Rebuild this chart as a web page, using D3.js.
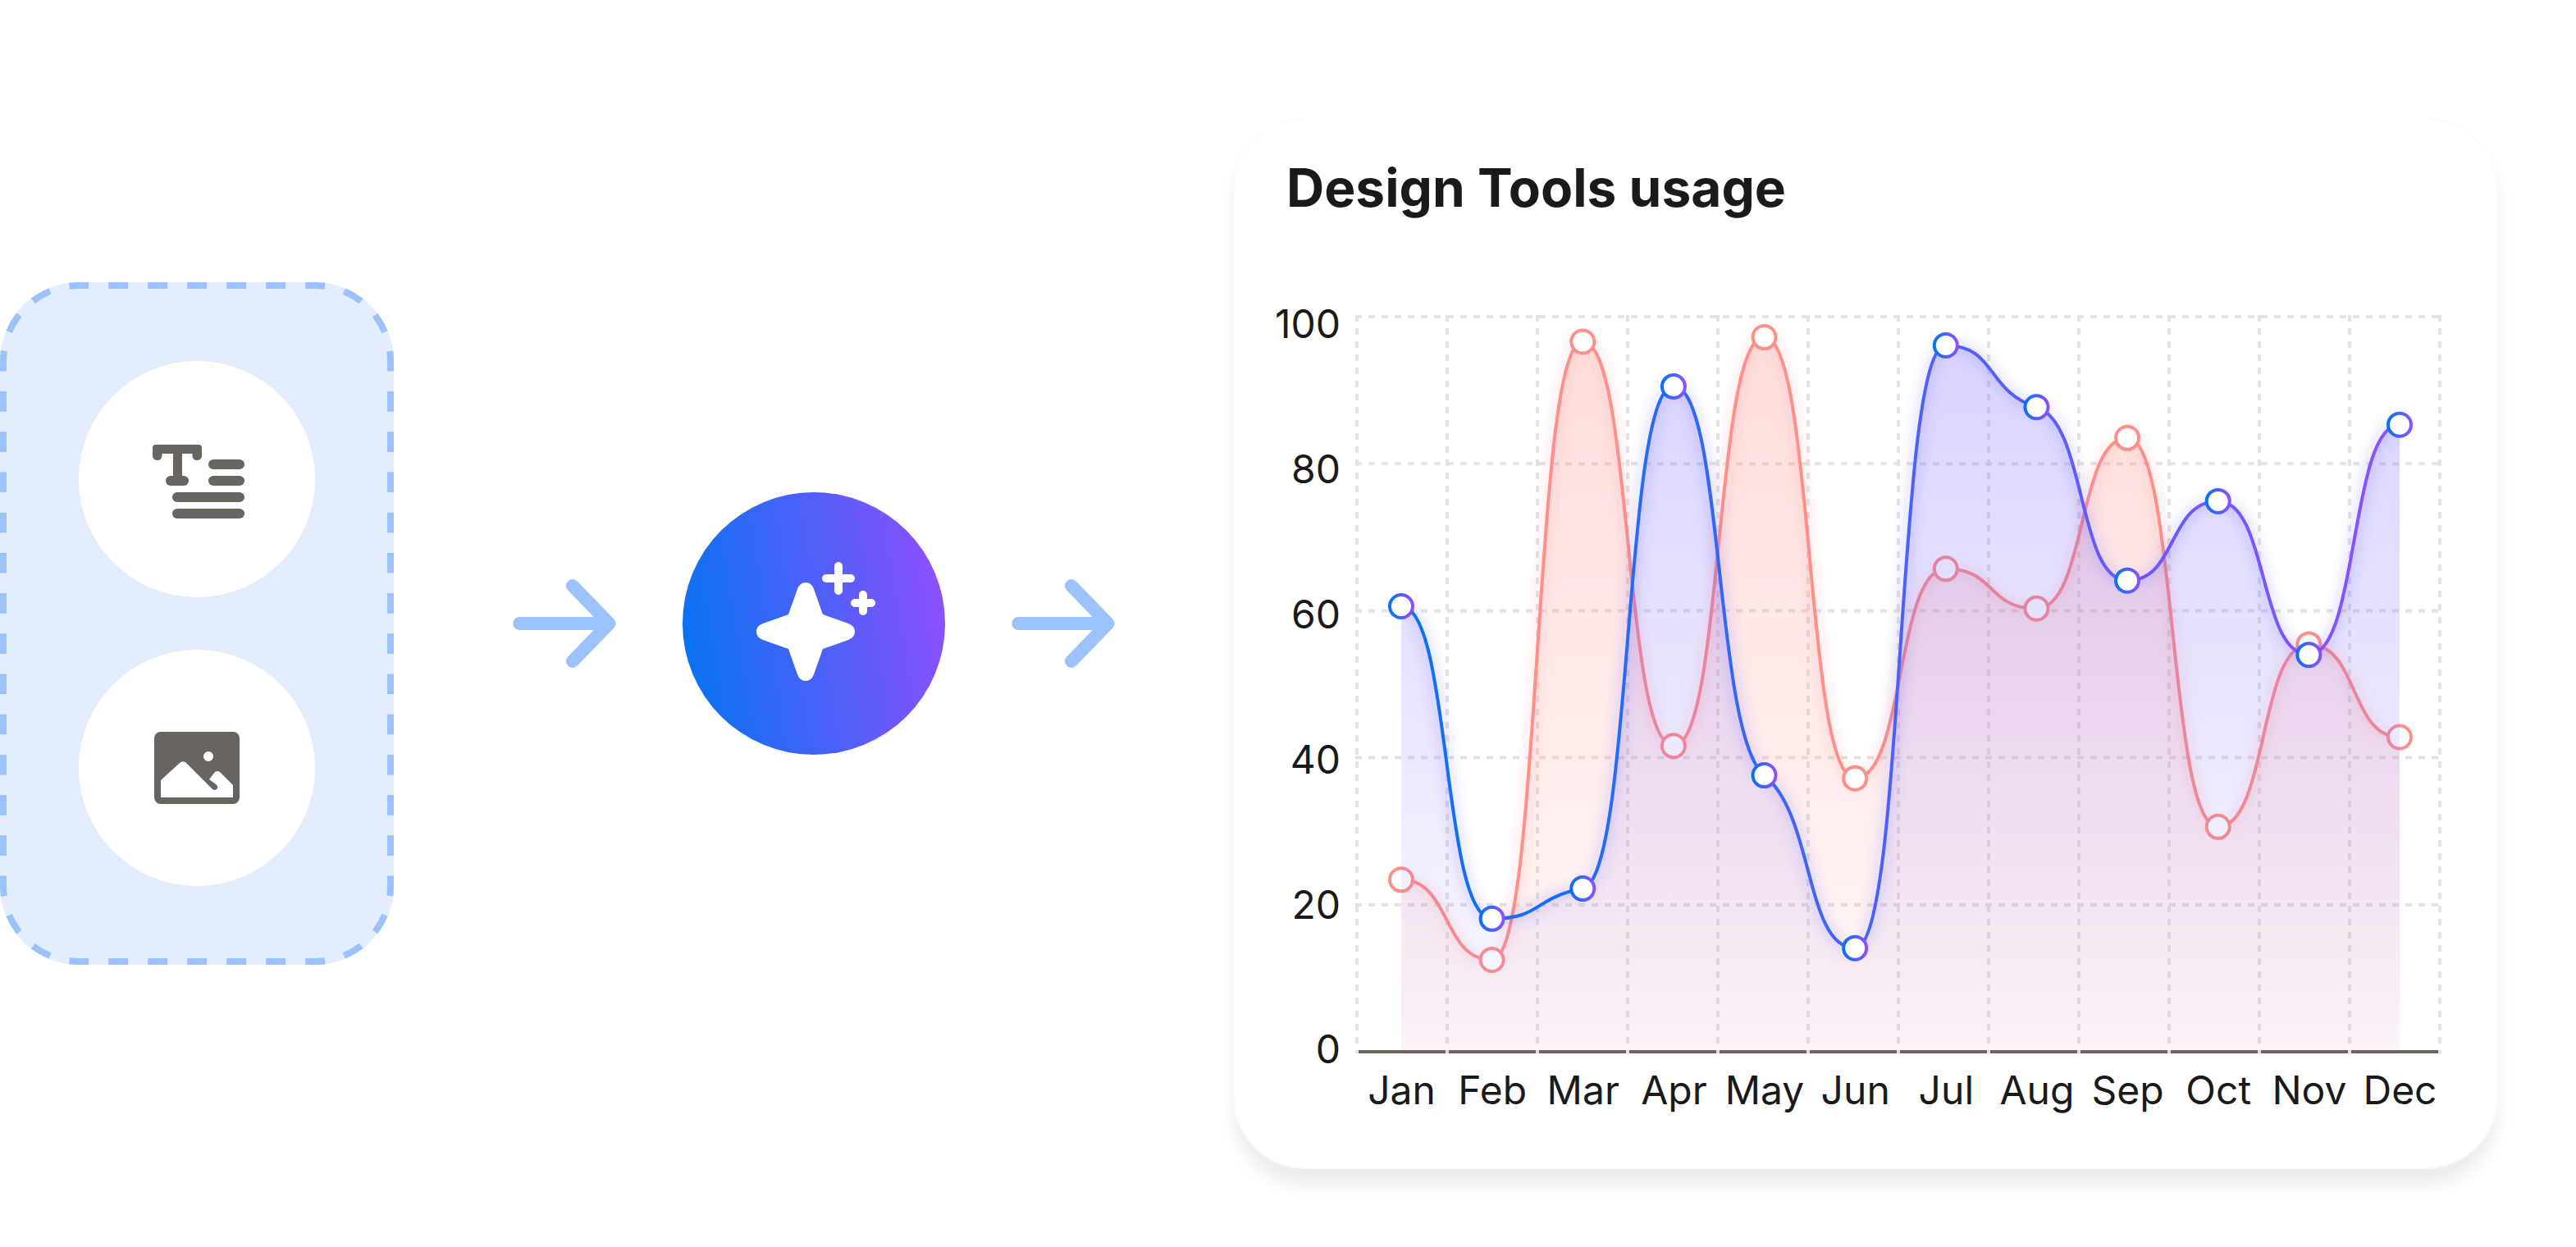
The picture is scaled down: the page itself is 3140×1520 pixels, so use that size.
<!DOCTYPE html>
<html>
<head>
<meta charset="utf-8">
<script src="https://cdn.jsdelivr.net/npm/d3@7"></script>
<style>
  html, body { margin: 0; padding: 0; background: #fff; }
  svg { display: block; }
  text { font-family: Inter, sans-serif; }
</style>
</head>
<body>
<svg id="chart" width="3140" height="1520"></svg>
<script>
// Values
const months = ["Jan", "Feb", "Mar", "Apr", "May", "Jun", "Jul", "Aug", "Sep", "Oct", "Nov", "Dec"]
const yTicks = [0, 20, 40, 60, 80, 100]
const redValues = [23.4, 12.5, 96.6, 41.6, 97.2, 37.2, 65.7, 60.3, 83.5, 30.6, 55.4, 42.8]
const blueValues = [60.6, 18.1, 22.2, 90.5, 37.6, 14.1, 96.1, 87.7, 64.1, 74.9, 54.0, 85.3]
const titleText = "Design Tools usage"

const svg = d3.select("#chart")
const defs = svg.append("defs")

function linearGrad(id, x1, y1, x2, y2, stops) {
  const g = defs.append("linearGradient").attr("id", id)
    .attr("x1", x1).attr("y1", y1).attr("x2", x2).attr("y2", y2)
  stops.forEach(s => g.append("stop").attr("offset", s[0]).attr("stop-color", s[1]).attr("stop-opacity", s[2] === undefined ? 1 : s[2]))
}
linearGrad("circleGrad", 0, 0.58, 1, 0.42, [[0, "#0872f2"], [1, "#8c50ff"]])
linearGrad("lineGrad", 0, 0, 1, 0, [[0, "#0872f2"], [1, "#8c50ff"]])
linearGrad("blueArea", 0, 0, 0, 1, [[0, "#6f5aff", 0.27], [1, "#6f5aff", 0.03]])
linearGrad("redArea", 0, 0, 0, 1, [[0, "#ff8f8a", 0.3], [1, "#ff8f8a", 0.06]])

const cardShadow = defs.append("filter").attr("id", "cardShadow")
  .attr("x", "-10%").attr("y", "-10%").attr("width", "120%").attr("height", "125%")
cardShadow.append("feDropShadow").attr("dx", 0).attr("dy", 20).attr("stdDeviation", 10)
  .attr("flood-color", "#000").attr("flood-opacity", 0.07)
defs.append("filter").attr("id", "glow")
  .attr("filterUnits", "userSpaceOnUse").attr("x", 1600).attr("y", 300).attr("width", 1500).attr("height", 1100)
  .append("feGaussianBlur").attr("stdDeviation", 8)

// Left panel
const iconColor = "#686460"
const lightBlue = "#9cc2fb"
svg.append("rect").attr("x", 0).attr("y", 344).attr("width", 480).attr("height", 832).attr("rx", 96).attr("fill", "#e3edfd")
// dashes run a bit longer on the upright sides, so the outline is split in pieces
const outline = [
  ["M4 440 A92 92 0 0 1 96 348 H384 A92 92 0 0 1 476 440", "24 24", 11.5],
  ["M4 1080 A92 92 0 0 0 96 1172 H384 A92 92 0 0 0 476 1080", "24 24", 11.5],
  ["M4 440 V1080", "24.6 24.6", 12.1],
  ["M476 440 V1080", "24.6 24.6", 12.1]
]
svg.append("g").selectAll("path").data(outline).join("path")
  .attr("d", d => d[0]).attr("fill", "none").attr("stroke", lightBlue).attr("stroke-width", 8)
  .attr("stroke-dasharray", d => d[1]).attr("stroke-dashoffset", d => d[2])
svg.selectAll(".bubble").data([584, 936]).join("circle").attr("class", "bubble")
  .attr("cx", 240).attr("cy", d => d).attr("r", 144).attr("fill", "#fff")

// text icon
const textIcon = svg.append("g").attr("fill", iconColor)
const iconRects = [
  [186, 542, 60, 11, 4], [186, 542, 11.5, 19, 5.5], [234.5, 542, 11.5, 19, 5.5],
  [211, 550, 11, 35, 0], [202, 580, 28, 12, 6],
  [254, 560, 44, 12, 6], [254, 580, 44, 12, 6], [210, 600, 88, 12, 6], [210, 620, 88, 12, 6]
]
textIcon.selectAll("rect").data(iconRects).join("rect")
  .attr("x", d => d[0]).attr("y", d => d[1]).attr("width", d => d[2]).attr("height", d => d[3]).attr("rx", d => d[4])

// image icon
svg.append("rect").attr("x", 188).attr("y", 892).attr("width", 104).attr("height", 88).attr("rx", 8).attr("fill", iconColor)
svg.append("circle").attr("cx", 254).attr("cy", 922).attr("r", 6).attr("fill", "#fff")
svg.append("path").attr("fill", "#fff")
  .attr("d", "M196 972 V951 L219 930 Q222 927 226 929 L258 961 Q262 965 265 961 Q266 958 263 956 L255 950 L262 941 Q265 939 268 941 L284 957 V972 Z")

// arrows
function arrow(dx) {
  svg.append("path").attr("transform", `translate(${dx},0)`)
    .attr("d", "M633.5 760 H742 M698 714 L742.5 760 L698 806")
    .attr("fill", "none").attr("stroke", lightBlue).attr("stroke-width", 16)
    .attr("stroke-linecap", "round").attr("stroke-linejoin", "round")
}
arrow(0)
arrow(608)

// Gradient circle with sparkles
svg.append("circle").attr("cx", 992).attr("cy", 760).attr("r", 160).attr("fill", "url(#circleGrad)")
svg.append("path").attr("fill", "#fff").attr("transform", "translate(982,770)")
  .attr("d", "M-21 -21 L-10 -52 Q-7 -60 0 -60 Q7 -60 10 -52 L21 -21 L52 -10 Q60 -7 60 0 Q60 7 52 10 L21 21 L10 52 Q7 60 0 60 Q-7 60 -10 52 L-21 21 L-52 10 Q-60 7 -60 0 Q-60 -7 -52 -10 Z")
svg.append("path").attr("fill", "none").attr("stroke", "#fff").attr("stroke-width", 10).attr("stroke-linecap", "round")
  .attr("d", "M1007 705 H1037 M1022 690 V720 M1042 735 H1062 M1052 725 V745")

// Card
svg.append("rect").attr("x", 1504).attr("y", 144).attr("width", 1540).attr("height", 1280).attr("rx", 88)
  .attr("fill", "#fff").attr("stroke", "#fafafa").attr("stroke-width", 1.5).attr("filter", "url(#cardShadow)")
svg.append("text").attr("x", 1568).attr("y", 252).attr("font-size", 64).attr("font-weight", 700).attr("fill", "#1a1a1a").text(titleText)

// Scales
const x = d3.scalePoint().domain(months).range([1708, 2925])
const y = d3.scaleLinear().domain([0, 100]).range([1282, 386])
const gridX = d3.scaleLinear().domain([0, 12]).range([1654, 2974])
// the tick labels are spaced slightly tighter than the grid
const yLabel = d3.scaleLinear().domain([0, 100]).range([1278.5, 394.6])

// Grid
const gridStyle = s => s.attr("stroke", "#e5e3e3").attr("stroke-width", 4).attr("stroke-dasharray", "8 8")
svg.append("g").selectAll("line").data(yTicks.slice(1)).join("line")
  .attr("x1", 1652).attr("x2", 2976).attr("y1", d => y(d)).attr("y2", d => y(d)).call(gridStyle)
svg.append("g").selectAll("line").data(d3.range(13)).join("line")
  .attr("x1", d => gridX(d)).attr("x2", d => gridX(d)).attr("y1", 384).attr("y2", 1284).call(gridStyle)

// Baseline broken at each grid column
svg.append("g").selectAll("line").data(d3.range(12)).join("line")
  .attr("x1", d => gridX(d) + 2).attr("x2", d => gridX(d + 1) - 2)
  .attr("y1", y(0)).attr("y2", y(0))
  .attr("stroke", iconColor).attr("stroke-width", 4)

// Axis labels
const xAxis = svg.append("g").attr("transform", `translate(0,${y(0)})`)
  .call(d3.axisBottom(x).tickSize(0).tickPadding(30))
const yAxis = svg.append("g").attr("transform", "translate(1654,0)")
  .call(d3.axisLeft(yLabel).tickValues(yTicks).tickSize(0).tickPadding(20))
;[xAxis, yAxis].forEach(a => {
  a.select(".domain").remove()
  a.selectAll("text").attr("font-family", "Inter, sans-serif").attr("font-size", 48).attr("fill", "#1a1a1a")
})
yAxis.selectAll("text").attr("dy", "0.36em")

// Spline with long handles and almost flat tangents, flat at both ends
function softCurve(context) {
  const handle = 0.55, flatten = 0.3
  let xs, ys, inArea = false, second = false
  return {
    areaStart() { inArea = true; second = false },
    areaEnd() { context.closePath(); inArea = false },
    lineStart() { xs = []; ys = [] },
    point(px, py) { xs.push(px); ys.push(py) },
    lineEnd() {
      const n = xs.length
      const slopes = xs.map((_, i) => {
        if (i === 0 || i === n - 1) return 0
        const s0 = (ys[i] - ys[i - 1]) / (xs[i] - xs[i - 1])
        const s1 = (ys[i + 1] - ys[i]) / (xs[i + 1] - xs[i])
        return s0 * s1 <= 0 ? 0 : flatten * 2 * s0 * s1 / (s0 + s1)
      })
      if (second) context.lineTo(xs[0], ys[0])
      else context.moveTo(xs[0], ys[0])
      for (let i = 1; i < n; i++) {
        const h = (xs[i] - xs[i - 1]) * handle
        context.bezierCurveTo(xs[i - 1] + h, ys[i - 1] + slopes[i - 1] * h, xs[i] - h, ys[i] - slopes[i] * h, xs[i], ys[i])
      }
      if (inArea) second = true
    }
  }
}

// Series: red goes first, blue sits on top of it
const line = d3.line().x((d, i) => x(months[i])).y(d => y(d)).curve(softCurve)
const area = d3.area().x((d, i) => x(months[i])).y0(y(0)).y1(d => y(d)).curve(softCurve)

function drawSeries(values, areaFill, stroke, glow) {
  const g = svg.append("g")
  g.append("path").datum(values).attr("d", area).attr("fill", areaFill)
  g.append("path").datum(values).attr("d", line).attr("fill", "none")
    .attr("stroke", glow).attr("stroke-width", 8).attr("stroke-opacity", 0.3).attr("filter", "url(#glow)")
  g.append("path").datum(values).attr("d", line).attr("fill", "none")
    .attr("stroke", stroke).attr("stroke-width", 4)
  g.selectAll("circle").data(values).join("circle")
    .attr("cx", (d, i) => x(months[i])).attr("cy", d => y(d)).attr("r", 14)
    .attr("fill", "#fff").attr("stroke", stroke).attr("stroke-width", 4)
}
drawSeries(redValues, "url(#redArea)", "#ff8f8a", "#ff8f8a")
drawSeries(blueValues, "url(#blueArea)", "url(#lineGrad)", "#5a5aff")
</script>
</body>
</html>
